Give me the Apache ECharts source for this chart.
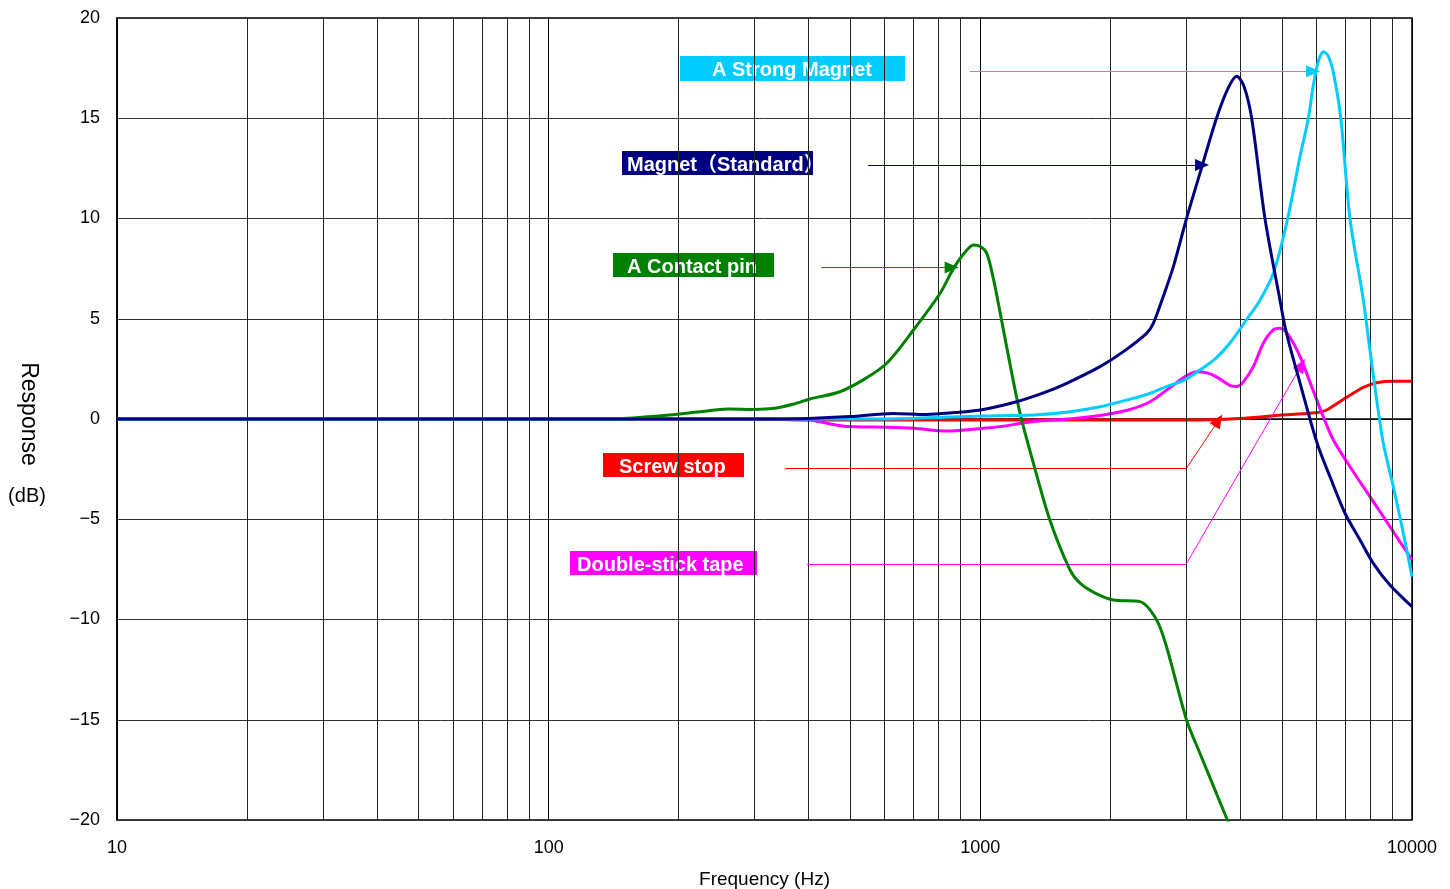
<!DOCTYPE html>
<html><head><meta charset="utf-8">
<script src="https://cdn.jsdelivr.net/npm/echarts@6/dist/echarts.min.js"></script>
<style>html,body{margin:0;padding:0;background:#fff}#c{width:1450px;height:889px}</style>
</head><body><div id="c"></div>
<script>
// ---- Data (frequency in Hz, response in dB) ----
const contactFreq = [10, 100, 140, 180, 224, 260, 300, 330, 370, 403, 473, 540, 607, 700, 807, 866, 920, 964, 1000, 1035, 1072, 1112, 1170, 1236, 1327, 1449, 1613, 1702, 1850, 2033, 2344, 2561, 2700, 3004, 3226, 3718, 3900];
const contactDb   = [0, 0, 0, 0.15, 0.36, 0.5, 0.48, 0.52, 0.75, 1.0, 1.36, 2.0, 2.78, 4.44, 6.27, 7.5, 8.3, 8.68, 8.6, 8.26, 7.0, 5.27, 2.8, 0.28, -2.2, -5.04, -7.53, -8.19, -8.7, -9.03, -9.11, -10.02, -11.36, -15.01, -16.67, -19.9, -21];

const standardFreq = [10, 300, 400, 500, 628, 750, 870, 1000, 1213, 1400, 1585, 1893, 2145, 2427, 2516, 2652, 2800, 3004, 3226, 3525, 3750, 3925, 4080, 4252, 4564, 4944, 5079, 5264, 5452, 5803, 6067, 6457, 6995, 7579, 8135, 8892, 10000];
const standardDb   = [0, 0, 0.03, 0.12, 0.28, 0.23, 0.32, 0.45, 0.86, 1.3, 1.78, 2.61, 3.36, 4.27, 4.77, 6.1, 7.6, 10, 12.25, 15, 16.5, 17.1, 16.6, 15, 10, 5.94, 4.6, 3.28, 2.11, 0, -1.38, -2.88, -4.7, -6.03, -7.2, -8.28, -9.36];

const strongFreq = [10, 500, 700, 1000, 1327, 1600, 1893, 2261, 2473, 2700, 2978, 3226, 3500, 3784, 4152, 4448, 4773, 5128, 5504, 5754, 5913, 6080, 6242, 6400, 6572, 6840, 7183, 7713, 7991, 8283, 8582, 9051, 9550, 10000];
const strongDb   = [0, 0, 0.03, 0.15, 0.2, 0.35, 0.61, 1.03, 1.28, 1.61, 1.95, 2.44, 3.0, 3.78, 5, 5.94, 7.27, 9.8, 13.1, 15, 16.7, 17.9, 18.32, 18.1, 17.3, 15, 10, 5.94, 3.44, 0.95, -1.21, -3.38, -5.7, -7.86];

const tapeFreq = [10, 350, 403, 450, 499, 607, 700, 836, 1016, 1112, 1327, 1600, 1926, 2200, 2473, 2801, 3000, 3169, 3350, 3525, 3784, 3925, 4050, 4290, 4524, 4772, 4944, 5170, 5504, 5857, 6231, 6575, 7185, 7991, 8892, 10000];
const tapeDb   = [0, 0, -0.05, -0.25, -0.38, -0.41, -0.46, -0.6, -0.46, -0.38, -0.13, 0, 0.2, 0.45, 0.86, 1.7, 2.15, 2.36, 2.3, 2.1, 1.68, 1.62, 1.8, 2.61, 3.78, 4.44, 4.52, 4.19, 3.11, 1.61, 0.11, -1.05, -2.38, -3.87, -5.37, -7.03];

const screwFreq = [10, 300, 400, 1000, 3000, 4000, 5000, 6000, 6345, 6995, 7713, 8283, 9051, 10000];
const screwDb   = [0, 0, -0.05, -0.05, -0.05, 0.03, 0.2, 0.31, 0.45, 1.03, 1.58, 1.81, 1.88, 1.88];

// annotation arrows (data coordinates: Hz, dB)
const strongArrow   = [[946, 17.35], [5900, 17.35]];
const standardArrow = [[549, 12.67], [3262, 12.67]];
const contactArrow  = [[428, 7.56], [858, 7.56]];
const screwArrow    = [[353, -2.47], [3000, -2.47], [3562, -0.07]];
const tapeArrow     = [[397, -7.23], [3000, -7.23], [5546, 2.69]];

// minor vertical grid frequencies
const minorFreqs = [20,30,40,50,60,70,80,90,200,300,400,500,600,700,800,900,2000,3000,4000,5000,6000,7000,8000,9000];

// labels
const labelTexts = ['A Strong Magnet', 'Magnet（Standard）', 'A Contact pin', 'Screw stop', 'Double-stick tape'];

const C = {strong:'#00CCFF', standard:'#000080', contact:'#008000', screw:'#FF0000', tape:'#FF00FF'};
const FONT = '"Liberation Sans", Arial, "Noto Sans CJK JP", sans-serif';

function zip(f, d){ return f.map((x,i)=>[x, d[i]]); }

function arrowLines(pts, color){
  const segs = [];
  for (let i=0;i<pts.length-1;i++){
    const last = i === pts.length-2;
    segs.push([
      {coord: pts[i], symbol:'none'},
      {coord: pts[i+1], symbol: last ? 'triangle' : 'none', symbolSize: [12, 14]}
    ]);
  }
  return {
    silent: true, animation: false,
    symbol: ['none','none'],
    label: {show:false},
    lineStyle: {color: color, width: 1, type: 'solid'},
    emphasis: {disabled: true},
    data: segs
  };
}

function curve(name, f, d, color, z, arrow){
  return {
    type:'line', name, data: zip(f,d), smooth: 0.3, symbol:'none', clip: true,
    lineStyle:{color, width:3}, itemStyle:{color}, z,
    emphasis:{disabled:true},
    markLine: arrowLines(arrow, color)
  };
}

const boxes = [
  {x:680, y:56, w:225, h:25, c:C.strong, tx:712},
  {x:622, y:151, w:191, h:24, c:C.standard, tx:627},
  {x:613, y:253, w:161, h:24, c:C.contact, tx:627},
  {x:603, y:453, w:141, h:24, c:C.screw, tx:619},
  {x:570, y:551, w:187, h:24, c:C.tape, tx:577}
];

const chart = echarts.init(document.getElementById('c'));
chart.setOption({
  animation: false,
  backgroundColor: '#fff',
  grid: {left:117, right:38, top:18, bottom:69, outerBoundsMode:'none', containLabel:false,
    show:true, borderColor:'#000', borderWidth:1.5, backgroundColor:'#fff'},
  xAxis: {
    type:'log', logBase:10, min:10, max:10000,
    name:'Frequency (Hz)', nameLocation:'middle', nameGap:50,
    nameTextStyle:{fontSize:19, color:'#000', fontFamily:FONT},
    axisLine:{lineStyle:{color:'#000', width:1.5}},
    axisTick:{show:false},
    axisLabel:{fontSize:18, color:'#000', margin:19, fontFamily:FONT, formatter: v => String(Math.round(v))},
    splitLine:{show:true, lineStyle:{color:'#000', width:1}}
  },
  yAxis: {
    type:'value', min:-20, max:20, interval:5,
    axisLine:{show:true, lineStyle:{color:'#000', width:1.5}},
    axisTick:{show:false},
    axisLabel:{fontSize:18, color:'#000', margin:17, fontFamily:FONT,
      formatter: v => String(v).replace('-', '−')},
    splitLine:{show:true, lineStyle:{color:'#333', width:1}}
  },
  series: [
    {
      type:'line', name:'grid', data:[[10,0]], symbol:'none', lineStyle:{opacity:0}, z:1, silent:true,
      markLine:{silent:true, animation:false, symbol:['none','none'], label:{show:false},
        lineStyle:{color:'#222', width:1, type:'solid'},
        data: minorFreqs.map(v=>({xAxis:v}))}
    },
    curve('Screw stop', screwFreq, screwDb, C.screw, 3, screwArrow),
    curve('Double-stick tape', tapeFreq, tapeDb, C.tape, 4, tapeArrow),
    curve('A Contact pin', contactFreq, contactDb, C.contact, 5, contactArrow),
    curve('A Strong Magnet', strongFreq, strongDb, C.strong, 6, strongArrow),
    curve('Magnet(Standard)', standardFreq, standardDb, C.standard, 7, standardArrow)
  ],
  graphic: [
    ...boxes.map((b,i)=>({
      type:'group', z:100,
      children:[
        {type:'rect', shape:{x:b.x, y:b.y, width:b.w, height:b.h}, style:{fill:b.c}},
        {type:'text', x:b.tx, y:b.y+b.h/2+2,
          style:{text:labelTexts[i], fill:'#fff', fontSize:20, fontWeight:'bold', fontFamily:FONT, align:'left', verticalAlign:'middle'}}
      ]
    })),
    {type:'text', x:28, y:414, rotation:-Math.PI/2,
      style:{text:'Response', fill:'#000', fontSize:23, fontFamily:FONT, align:'center', verticalAlign:'middle'}},
    {type:'text', x:27, y:496,
      style:{text:'(dB)', fill:'#000', fontSize:20, fontFamily:FONT, align:'center', verticalAlign:'middle'}}
  ]
});
</script>
</body></html>
